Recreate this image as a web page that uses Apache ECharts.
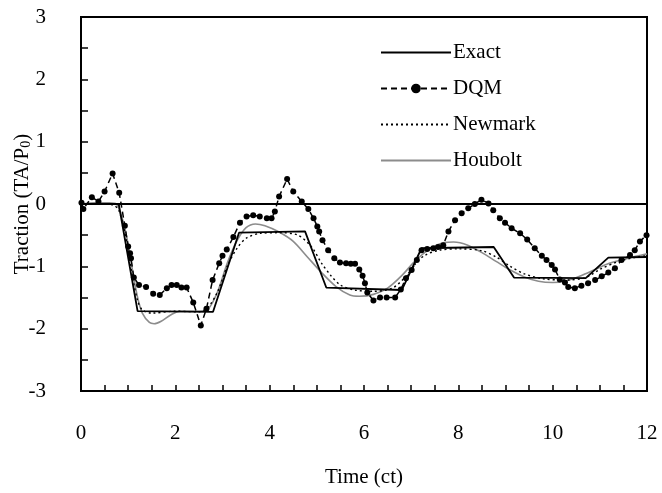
<!DOCTYPE html>
<html>
<head>
<meta charset="utf-8">
<script src="https://cdn.jsdelivr.net/npm/echarts@6/dist/echarts.min.js"></script>
<style>
  html, body { margin: 0; padding: 0; background: #fff; }
  #chart { width: 662px; height: 493px; }
</style>
</head>
<body>
<div id="chart"></div>
<script>
// Traction history at the loaded end: exact solution vs. numerical schemes
const exactT = [0, 0.8, 1.2, 2.8, 3.35, 4.75, 5.2, 6.8, 7.22, 8.75, 9.18, 10.7, 11.18, 12];
const exactV = [0, 0, -1.72, -1.73, -0.46, -0.44, -1.34, -1.38, -0.71, -0.69, -1.18, -1.19, -0.86, -0.85];

const dqmT = [0.01, 0.05, 0.23, 0.37, 0.5, 0.67, 0.81, 0.93, 1.0, 1.04, 1.06, 1.12, 1.23, 1.38, 1.53, 1.67, 1.82, 1.92, 2.03, 2.13, 2.24, 2.38, 2.54, 2.66, 2.79, 2.93, 3.0, 3.09, 3.23, 3.37, 3.51, 3.65, 3.79, 3.94, 4.04, 4.11, 4.2, 4.37, 4.5, 4.68, 4.82, 4.93, 5.01, 5.05, 5.12, 5.24, 5.37, 5.49, 5.62, 5.72, 5.81, 5.9, 5.97, 6.02, 6.07, 6.2, 6.34, 6.48, 6.66, 6.78, 6.89, 7.01, 7.12, 7.22, 7.34, 7.47, 7.57, 7.68, 7.79, 7.93, 8.07, 8.21, 8.35, 8.49, 8.64, 8.74, 8.88, 8.99, 9.13, 9.31, 9.46, 9.62, 9.77, 9.87, 9.98, 10.05, 10.15, 10.26, 10.33, 10.47, 10.61, 10.75, 10.9, 11.04, 11.18, 11.32, 11.46, 11.64, 11.74, 11.85, 11.99];
const dqmV = [0.02, -0.08, 0.11, 0.04, 0.2, 0.49, 0.18, -0.35, -0.68, -0.79, -0.87, -1.18, -1.3, -1.33, -1.44, -1.46, -1.35, -1.3, -1.3, -1.34, -1.34, -1.58, -1.95, -1.68, -1.22, -0.95, -0.83, -0.73, -0.53, -0.3, -0.2, -0.18, -0.2, -0.23, -0.23, -0.12, 0.12, 0.4, 0.2, 0.04, -0.08, -0.23, -0.36, -0.44, -0.58, -0.74, -0.87, -0.94, -0.95, -0.96, -0.96, -1.05, -1.15, -1.27, -1.42, -1.55, -1.5, -1.5, -1.5, -1.37, -1.19, -1.06, -0.9, -0.74, -0.72, -0.71, -0.69, -0.66, -0.44, -0.26, -0.15, -0.07, 0.0, 0.07, 0.01, -0.1, -0.23, -0.3, -0.39, -0.47, -0.57, -0.71, -0.83, -0.9, -0.98, -1.05, -1.21, -1.26, -1.33, -1.35, -1.31, -1.27, -1.22, -1.16, -1.1, -1.03, -0.9, -0.82, -0.74, -0.6, -0.5];

const newmarkT = [0, 0.5, 0.7, 0.8, 0.9, 1.0, 1.1, 1.2, 1.3, 1.5, 2.0, 2.5, 2.7, 2.9, 3.1, 3.3, 3.5, 3.8, 4.2, 4.6, 4.9, 5.1, 5.3, 5.5, 5.8, 6.2, 6.6, 6.9, 7.1, 7.3, 7.6, 8.0, 8.5, 8.8, 9.1, 9.4, 9.8, 10.3, 10.7, 11.0, 11.4, 11.8, 12];
const newmarkV = [0, 0, -0.02, -0.1, -0.35, -0.75, -1.2, -1.55, -1.7, -1.75, -1.72, -1.73, -1.65, -1.4, -1.0, -0.72, -0.55, -0.47, -0.46, -0.5, -0.7, -0.95, -1.15, -1.3, -1.38, -1.4, -1.35, -1.15, -0.95, -0.82, -0.74, -0.72, -0.75, -0.85, -1.0, -1.12, -1.2, -1.22, -1.18, -1.05, -0.92, -0.85, -0.83];

const houboltT = [0, 0.3, 0.6, 0.75, 0.9, 1.0, 1.1, 1.2, 1.3, 1.45, 1.55, 1.7, 1.9, 2.1, 2.5, 2.7, 2.9, 3.1, 3.3, 3.5, 3.7, 3.9, 4.2, 4.5, 4.8, 5.1, 5.4, 5.7, 5.9, 6.2, 6.5, 6.8, 7.1, 7.4, 7.7, 7.9, 8.2, 8.5, 8.8, 9.1, 9.4, 9.7, 10.0, 10.3, 10.6, 10.9, 11.2, 11.6, 12];
const houboltV = [0, 0.02, 0.02, 0, -0.3, -0.65, -1.1, -1.5, -1.75, -1.9, -1.92, -1.88, -1.78, -1.72, -1.72, -1.68, -1.4, -0.95, -0.6, -0.38, -0.32, -0.35, -0.45, -0.6, -0.85, -1.1, -1.32, -1.46, -1.48, -1.45, -1.35, -1.15, -0.9, -0.72, -0.62, -0.61, -0.66, -0.78, -0.92, -1.06, -1.17, -1.24, -1.26, -1.23, -1.15, -1.05, -0.95, -0.87, -0.8];

const seriesNames = ['Exact', 'DQM', 'Newmark', 'Houbolt'];
// series drawn as plain lines get a line-only legend key
const lineOnly = { Exact: true, DQM: false, Newmark: true, Houbolt: true };

const zip = (ts, vs) => ts.map((t, i) => [t, vs[i]]);

const FONT = '"Liberation Serif", "Times New Roman", serif';

const chart = echarts.init(document.getElementById('chart'), null, { renderer: 'canvas' });

chart.setOption({
  animation: false,
  backgroundColor: '#fff',
  textStyle: { fontFamily: FONT, color: '#000' },
  grid: {
    left: 81, right: 15, top: 17, bottom: 102,
    outerBoundsMode: 'none', containLabel: false,
    show: true, borderColor: '#000', borderWidth: 2, backgroundColor: 'transparent'
  },
  legend: {
    orient: 'vertical',
    left: 375, top: 37,
    itemWidth: 70, itemHeight: 12, itemGap: 15,
    textStyle: { fontFamily: FONT, fontSize: 21, color: '#000', padding: [0, 0, 0, -3] },
    data: seriesNames.map(n => (lineOnly[n] ? { name: n, itemStyle: { opacity: 0 } } : { name: n }))
  },
  xAxis: {
    type: 'value', min: 0, max: 12, interval: 0.5,
    name: 'Time (ct)', nameLocation: 'middle', nameGap: 76, nameMoveOverlap: false,
    nameTextStyle: { fontFamily: FONT, fontSize: 21, color: '#000' },
    axisLine: { onZero: false, lineStyle: { color: '#000', width: 2 } },
    axisTick: { inside: true, length: 6, lineStyle: { color: '#000', width: 1.5 } },
    axisLabel: {
      margin: 32, fontFamily: FONT, fontSize: 21, color: '#000',
      formatter: v => (Math.abs(v % 2) < 1e-9 ? String(v) : '')
    },
    splitLine: { show: false }
  },
  yAxis: {
    type: 'value', min: -3, max: 3, interval: 0.5,
    name: '{a|Traction (TA/P}{s|0}{a|)}', nameLocation: 'middle', nameGap: 48, nameMoveOverlap: false,
    nameTextStyle: {
      fontFamily: FONT, color: '#000',
      rich: {
        a: { fontFamily: FONT, fontSize: 21, color: '#000' },
        s: { fontFamily: FONT, fontSize: 14, color: '#000', verticalAlign: 'bottom', padding: [8, 0, 0, 0] }
      }
    },
    axisLine: { onZero: false, lineStyle: { color: '#000', width: 2 } },
    axisTick: { inside: true, length: 7, lineStyle: { color: '#000', width: 1.5 } },
    axisLabel: {
      margin: 35, fontFamily: FONT, fontSize: 21, color: '#000',
      formatter: v => (Number.isInteger(v) ? String(v) : '')
    },
    splitLine: { show: false }
  },
  series: [
    {
      name: 'Exact', type: 'line', data: zip(exactT, exactV),
      symbol: 'none', lineStyle: { color: '#000', width: 1.8 }, itemStyle: { color: '#000' },
      z: 4,
      markLine: {
        silent: true, symbol: 'none', label: { show: false },
        lineStyle: { color: '#000', width: 2, type: 'solid' },
        data: [{ yAxis: 0 }]
      }
    },
    {
      name: 'DQM', type: 'line', data: zip(dqmT, dqmV),
      symbol: 'circle', symbolSize: 6, showAllSymbol: true,
      lineStyle: { color: '#000', width: 1.5, type: [6, 4] },
      itemStyle: { color: '#000' },
      z: 5
    },
    {
      name: 'Newmark', type: 'line', data: zip(newmarkT, newmarkV), smooth: 0.3,
      symbol: 'none', lineStyle: { color: '#000', width: 1.4, type: [2, 3] },
      itemStyle: { color: '#000' },
      z: 3
    },
    {
      name: 'Houbolt', type: 'line', data: zip(houboltT, houboltV), smooth: 0.3,
      symbol: 'none', lineStyle: { color: '#8c8c8c', width: 1.6 },
      itemStyle: { color: '#8c8c8c' },
      z: 2
    }
  ]
});
</script>
</body>
</html>
